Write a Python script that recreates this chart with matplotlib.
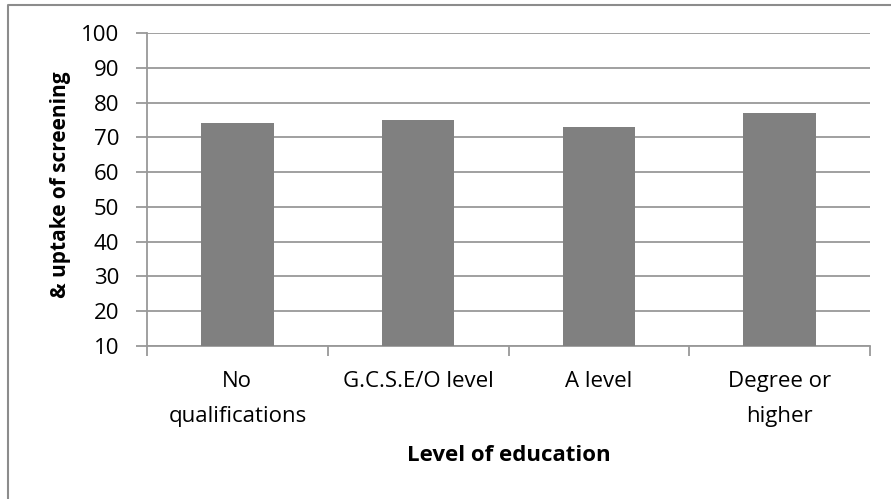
import matplotlib
matplotlib.use("Agg")
import matplotlib.pyplot as plt
from matplotlib.lines import Line2D

plt.rcParams["font.family"] = ["Open Sans", "DejaVu Sans"]

categories = ["No\nqualifications", "G.C.S.E/O level", "A level", "Degree or\nhigher"]
uptake = [74, 75, 73, 77]
yticks = [10, 20, 30, 40, 50, 60, 70, 80, 90, 100]

W, H = 891, 499
GREY = "#999999"
FS = 16

fig = plt.figure(figsize=(W / 100, H / 100), dpi=100)
# plot area in pixels: x 147..870, y 33..346 (from top)
ax = fig.add_axes([147 / W, 1 - 346 / H, (870 - 147) / W, (346 - 33) / H])

x = range(len(categories))
ax.bar(x, [v - 10 for v in uptake], bottom=10, width=0.4, color="#808080", zorder=3)

ax.set_xlim(-0.5, len(categories) - 0.5)
ax.set_ylim(10, 100)
ax.set_yticks(yticks)
ax.set_yticklabels([str(t) for t in yticks], fontsize=FS)
ax.grid(axis="y", color=GREY, linewidth=1.3, zorder=0)

# category boundaries get the tick marks, labels sit between them
ax.set_xticks([i - 0.5 for i in range(len(categories) + 1)])
ax.set_xticklabels([""] * (len(categories) + 1))
ax.set_xticks(list(x), minor=True)
ax.set_xticklabels(categories, minor=True, fontsize=FS, linespacing=1.85)
ax.tick_params(axis="x", which="major", length=7, color=GREY, width=1.3, direction="out")
ax.tick_params(axis="x", which="minor", length=0, pad=18)
ax.tick_params(axis="y", length=8, color=GREY, width=1.3, pad=12, direction="out")

for side in ["top", "right"]:
    ax.spines[side].set_visible(False)
for side in ["left", "bottom"]:
    ax.spines[side].set_color(GREY)
    ax.spines[side].set_linewidth(1.3)

ax.set_xlabel("Level of education", fontsize=FS, fontweight="bold")
ax.set_ylabel("& uptake of screening", fontsize=15, fontweight="bold")
ax.xaxis.set_label_coords(0.5, (346 - 445) / (346 - 33))
ax.yaxis.set_label_coords((71 - 147) / (870 - 147), (346 - 185) / (346 - 33))

# outer chart-area frame (only top and left edges fall inside the image)
fig.add_artist(Line2D([8 / W, 8 / W, 1], [0, 1 - 5 / H, 1 - 5 / H],
                      transform=fig.transFigure, color="#8c8c8c", linewidth=1.5))

fig.savefig("out.png", dpi=100)
